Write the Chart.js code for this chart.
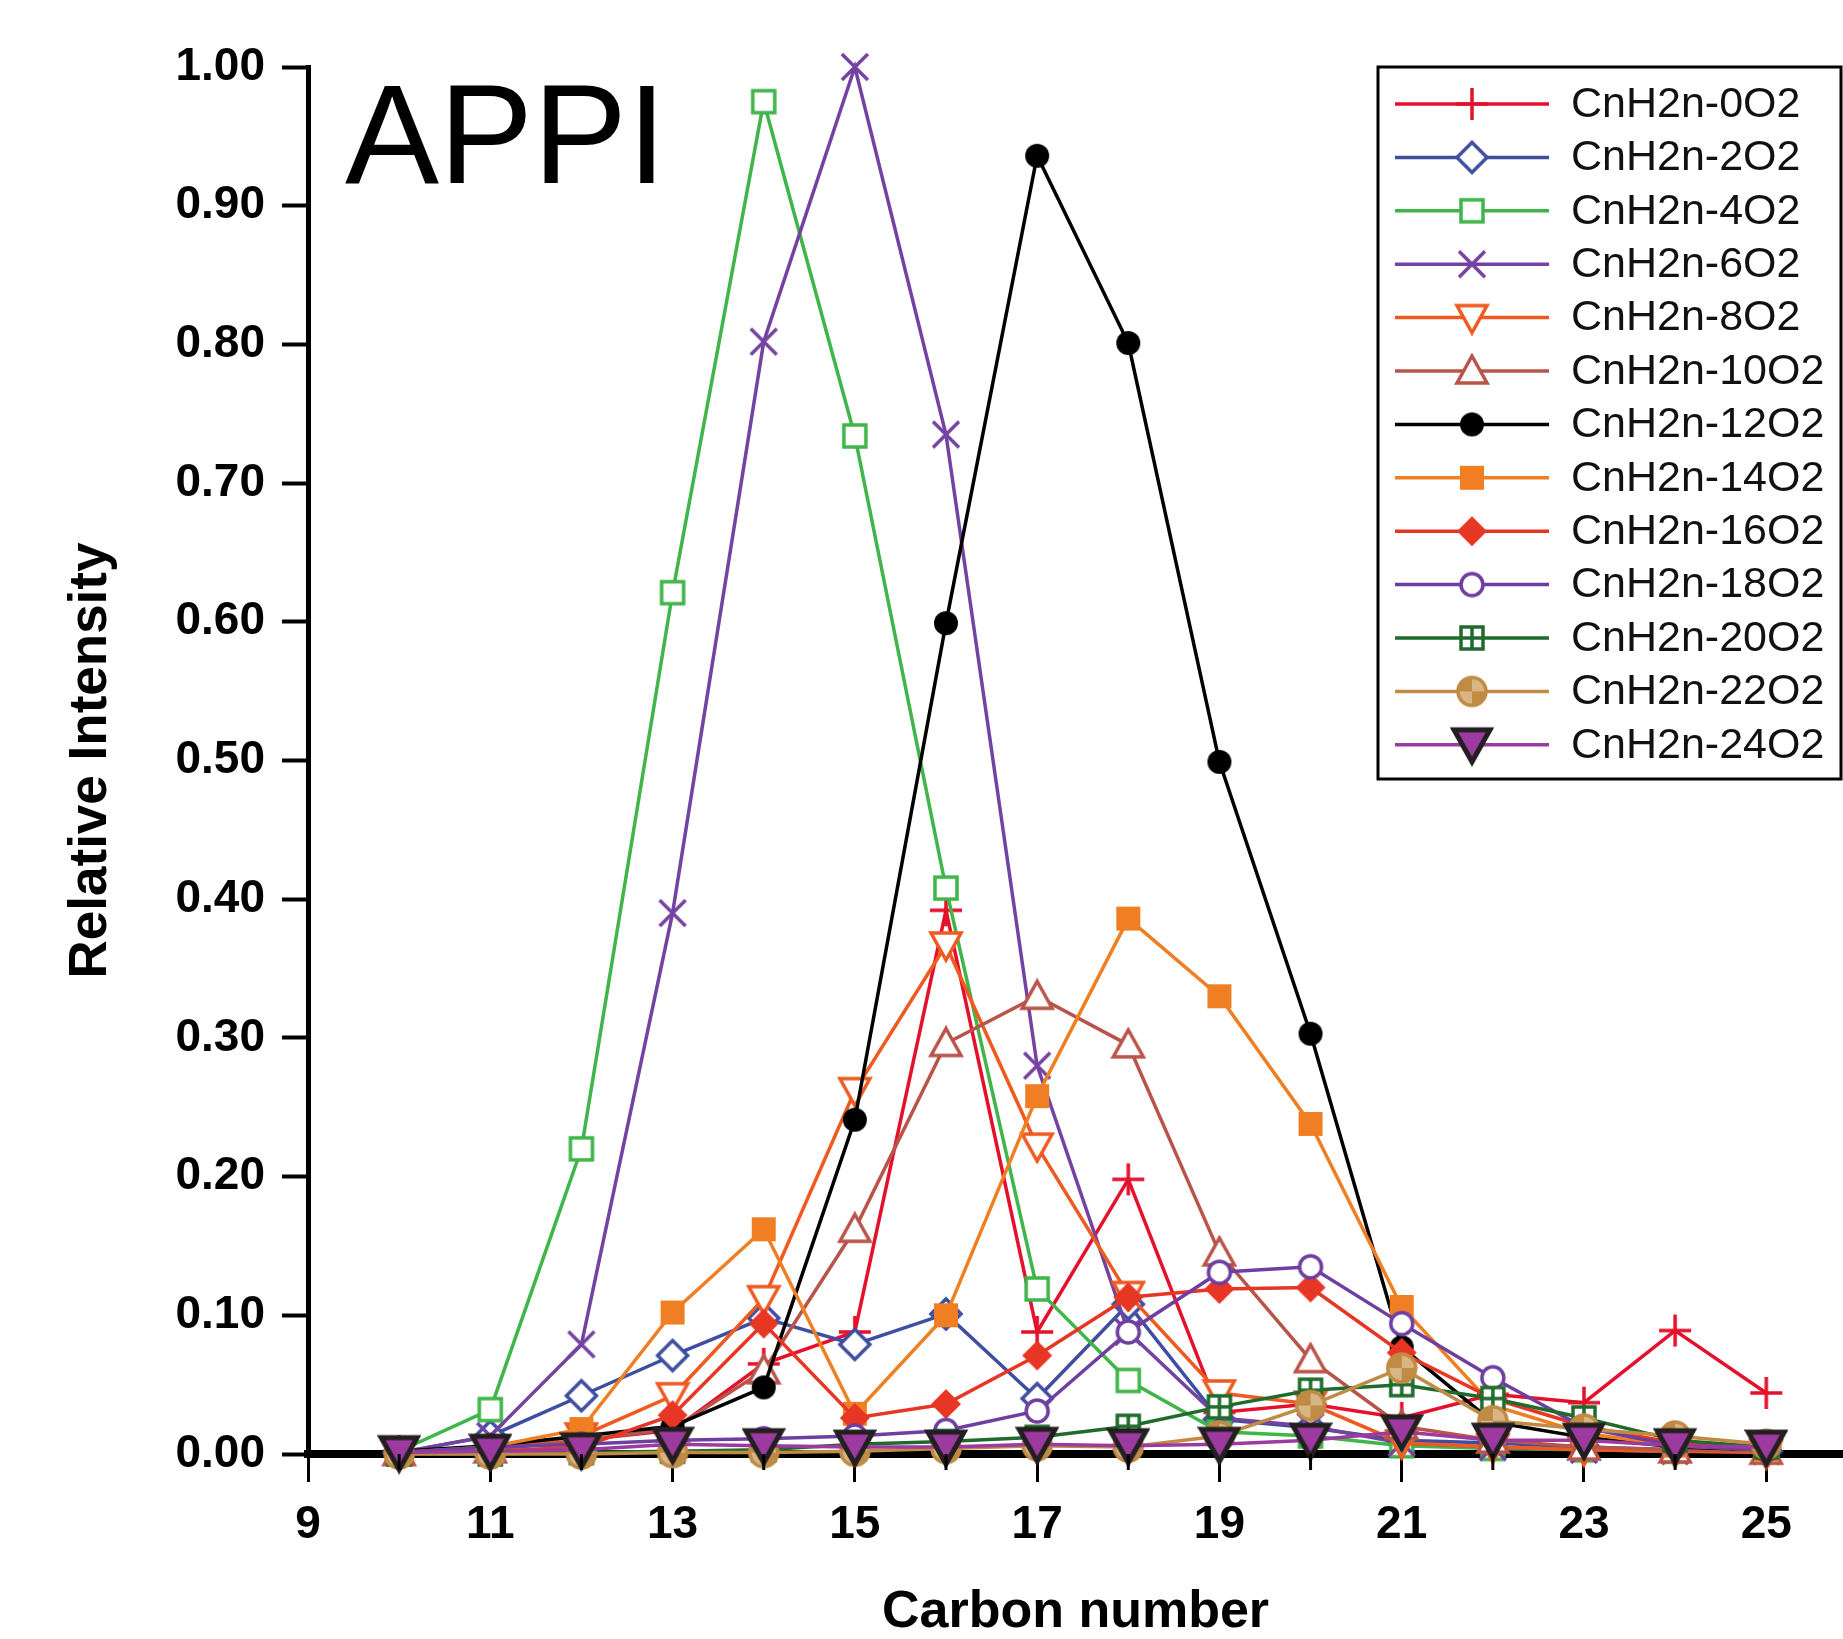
<!DOCTYPE html>
<html>
<head>
<meta charset="utf-8">
<script src="https://cdn.jsdelivr.net/npm/chart.js@4.4.1/dist/chart.umd.min.js"></script>
<style>
  html, body { margin: 0; padding: 0; background: #fff; }
  #wrap { width: 1843px; height: 1639px; }
</style>
</head>
<body>
<div id="wrap"><canvas id="canvas" width="1843" height="1639"></canvas></div>
<script>
// carbon numbers on the x axis
var carbon = [10, 11, 12, 13, 14, 15, 16, 17, 18, 19, 20, 21, 22, 23, 24, 25];

var seriesNames = [
    'CnH2n-0O2', 'CnH2n-2O2', 'CnH2n-4O2', 'CnH2n-6O2', 'CnH2n-8O2', 'CnH2n-10O2',
    'CnH2n-12O2', 'CnH2n-14O2', 'CnH2n-16O2', 'CnH2n-18O2', 'CnH2n-20O2', 'CnH2n-22O2', 'CnH2n-24O2'
];

var s0O2  = [0.002, 0.003, 0.010, 0.017, 0.065, 0.088, 0.392, 0.088, 0.198, 0.030, 0.036, 0.026, 0.043, 0.037, 0.089, 0.044];
var s2O2  = [0.001, 0.013, 0.042, 0.071, 0.098, 0.079, 0.101, 0.040, 0.108, 0.025, 0.019, 0.010, 0.008, 0.005, 0.003, 0.002];
var s4O2  = [0.002, 0.032, 0.220, 0.621, 0.975, 0.734, 0.408, 0.119, 0.053, 0.016, 0.013, 0.006, 0.004, 0.003, 0.002, 0.002];
var s6O2  = [0.001, 0.013, 0.079, 0.390, 0.802, 1.000, 0.735, 0.280, 0.088, 0.026, 0.020, 0.008, 0.005, 0.003, 0.002, 0.002];
var s8O2  = [0.001, 0.004, 0.013, 0.042, 0.112, 0.262, 0.367, 0.222, 0.115, 0.044, 0.036, 0.008, 0.005, 0.003, 0.002, 0.001];
var s10O2 = [0.001, 0.003, 0.010, 0.018, 0.060, 0.162, 0.296, 0.330, 0.295, 0.145, 0.068, 0.020, 0.010, 0.005, 0.003, 0.002];
var s12O2 = [0.002, 0.006, 0.013, 0.020, 0.048, 0.241, 0.599, 0.936, 0.801, 0.499, 0.303, 0.077, 0.023, 0.012, 0.005, 0.003];
var s14O2 = [0.001, 0.005, 0.018, 0.102, 0.162, 0.029, 0.100, 0.258, 0.386, 0.330, 0.238, 0.106, 0.035, 0.015, 0.006, 0.003];
var s16O2 = [0.001, 0.002, 0.005, 0.028, 0.094, 0.026, 0.036, 0.071, 0.113, 0.119, 0.120, 0.073, 0.040, 0.020, 0.008, 0.004];
var s18O2 = [0.001, 0.005, 0.007, 0.010, 0.011, 0.013, 0.017, 0.031, 0.088, 0.131, 0.135, 0.094, 0.055, 0.019, 0.006, 0.003];
var s20O2 = [0.000, 0.000, 0.001, 0.002, 0.003, 0.007, 0.009, 0.012, 0.020, 0.034, 0.046, 0.050, 0.040, 0.026, 0.010, 0.005];
var s22O2 = [0.000, 0.000, 0.000, 0.001, 0.001, 0.002, 0.004, 0.006, 0.005, 0.013, 0.035, 0.062, 0.024, 0.018, 0.013, 0.007];
var s24O2 = [0.001, 0.002, 0.003, 0.007, 0.006, 0.005, 0.005, 0.007, 0.006, 0.007, 0.010, 0.016, 0.010, 0.010, 0.006, 0.005];

var seriesValues = [s0O2, s2O2, s4O2, s6O2, s8O2, s10O2, s12O2, s14O2, s16O2, s18O2, s20O2, s22O2, s24O2];

var yTicks = [0, 0.1, 0.2, 0.3, 0.4, 0.5, 0.6, 0.7, 0.8, 0.9, 1.0];
var xLabelTicks = [9, 11, 13, 15, 17, 19, 21, 23, 25];
var xMinorTicks = [10, 12, 14, 16, 18, 20, 22, 24];

var colors = ['#e5112c', '#3f4ea0', '#3fb54a', '#7442a0', '#ee5a1f', '#b9544a', '#000000',
              '#f07f23', '#e73623', '#6e3fa0', '#1f6b2c', '#c08b44', '#9c3a9f'];
var markerKinds = ['plus', 'diamondOpen', 'squareOpen', 'x', 'triDownOpen', 'triUpOpen', 'dot',
                   'squareFill', 'diamondFill', 'circleOpen', 'squareGrid', 'circleQuarter', 'triDownBlack'];

var FONT = '"Liberation Sans", Arial, Helvetica, sans-serif';

function makeMarker(kind, color) {
    var c = document.createElement('canvas');
    var s = 36;
    if (kind === 'squareOpen' || kind === 'squareFill' || kind === 'squareGrid' || kind === 'dot' || kind === 'circleOpen') s = 30;
    if (kind === 'circleQuarter') s = 34;
    if (kind === 'triDownBlack') s = 44;
    c.width = s; c.height = s;
    var g = c.getContext('2d');
    var m = s / 2;
    g.lineWidth = 3.5;
    g.strokeStyle = color;
    g.fillStyle = color;
    g.lineJoin = 'miter';
    switch (kind) {
        case 'plus':
            g.beginPath();
            g.moveTo(m, 2); g.lineTo(m, s - 2);
            g.moveTo(2, m); g.lineTo(s - 2, m);
            g.stroke();
            break;
        case 'x':
            g.beginPath();
            g.moveTo(5, 5); g.lineTo(s - 5, s - 5);
            g.moveTo(s - 5, 5); g.lineTo(5, s - 5);
            g.stroke();
            break;
        case 'diamondOpen':
        case 'diamondFill':
            g.beginPath();
            g.moveTo(m, 3); g.lineTo(s - 3, m); g.lineTo(m, s - 3); g.lineTo(3, m); g.closePath();
            if (kind === 'diamondFill') g.fill(); else { g.fillStyle = '#fff'; g.fill(); g.stroke(); }
            break;
        case 'squareOpen':
            g.fillStyle = '#fff';
            g.fillRect(4, 4, s - 8, s - 8);
            g.strokeRect(4, 4, s - 8, s - 8);
            break;
        case 'squareFill':
            g.fillRect(3, 3, s - 6, s - 6);
            break;
        case 'squareGrid':
            g.fillStyle = '#fff';
            g.fillRect(4, 4, s - 8, s - 8);
            g.strokeRect(4, 4, s - 8, s - 8);
            g.beginPath();
            g.moveTo(m, 4); g.lineTo(m, s - 4);
            g.moveTo(4, m); g.lineTo(s - 4, m);
            g.stroke();
            break;
        case 'triDownOpen':
            g.beginPath();
            g.moveTo(3, 6); g.lineTo(s - 3, 6); g.lineTo(m, s - 3); g.closePath();
            g.fillStyle = '#fff'; g.fill(); g.stroke();
            break;
        case 'triUpOpen':
            g.beginPath();
            g.moveTo(m, 3); g.lineTo(s - 3, s - 6); g.lineTo(3, s - 6); g.closePath();
            g.fillStyle = '#fff'; g.fill(); g.stroke();
            break;
        case 'dot':
            g.beginPath();
            g.arc(m, m, 12, 0, Math.PI * 2);
            g.fill();
            break;
        case 'circleOpen':
            g.beginPath();
            g.arc(m, m, 11, 0, Math.PI * 2);
            g.fillStyle = '#fff'; g.fill(); g.stroke();
            break;
        case 'circleQuarter':
            g.beginPath();
            g.arc(m, m, 15, 0, Math.PI * 2);
            g.fillStyle = '#d9b583'; g.fill();
            g.fillStyle = color;
            g.beginPath(); g.moveTo(m, m); g.arc(m, m, 15, Math.PI, Math.PI * 1.5); g.closePath(); g.fill();
            g.beginPath(); g.moveTo(m, m); g.arc(m, m, 15, 0, Math.PI * 0.5); g.closePath(); g.fill();
            g.beginPath(); g.arc(m, m, 14, 0, Math.PI * 2); g.stroke();
            break;
        case 'triDownBlack':
            g.beginPath();
            g.moveTo(4, 7); g.lineTo(s - 4, 7); g.lineTo(m, s - 5); g.closePath();
            g.fillStyle = color; g.fill();
            g.lineWidth = 5; g.strokeStyle = '#231f20'; g.stroke();
            break;
    }
    return c;
}

var markers = markerKinds.map(function(k, i) { return makeMarker(k, colors[i]); });

var datasets = seriesNames.map(function(name, i) {
    return {
        label: name,
        data: carbon.map(function(c, j) { return {x: c, y: seriesValues[i][j]}; }),
        borderColor: colors[i],
        backgroundColor: colors[i],
        borderWidth: 3.5,
        pointStyle: markers[i],
        pointRadius: 14,
        tension: 0,
        clip: false,
        order: seriesNames.length - i
    };
});

var decorPlugin = {
    id: 'decor',
    afterDraw: function(chart) {
        var ctx = chart.ctx;
        var xs = chart.scales.x;
        var area = chart.chartArea;
        ctx.save();
        // carry the x axis line on to the right edge
        ctx.fillStyle = '#000';
        ctx.fillRect(area.right - 2, area.bottom - 4, chart.width - area.right + 2, 8);
        // minor ticks at even carbon numbers
        ctx.strokeStyle = '#000';
        ctx.lineWidth = 3;
        xMinorTicks.forEach(function(v) {
            var px = xs.getPixelForValue(v);
            ctx.beginPath();
            ctx.moveTo(px, area.bottom);
            ctx.lineTo(px, area.bottom + 16);
            ctx.stroke();
        });
        // x axis title, centred on the full axis line
        ctx.fillStyle = '#000';
        ctx.font = 'bold 52px ' + FONT;
        ctx.textAlign = 'center';
        ctx.textBaseline = 'middle';
        ctx.fillText('Carbon number', (area.left + chart.width) / 2, 1613);

        // APPI label
        ctx.font = '141px ' + FONT;
        ctx.textBaseline = 'alphabetic';
        ctx.textAlign = 'left';
        ctx.fillText('APPI', 345, 183);

        // legend box
        var bx = 1378, by = 67, bw = 463, bh = 712;
        ctx.fillStyle = '#fff';
        ctx.fillRect(bx, by, bw, bh);
        ctx.lineWidth = 3;
        ctx.strokeStyle = '#000';
        ctx.strokeRect(bx, by, bw, bh);
        ctx.font = '43px ' + FONT;
        ctx.textBaseline = 'middle';
        seriesNames.forEach(function(name, i) {
            var y = 104 + i * 53.4;
            ctx.strokeStyle = colors[i];
            ctx.lineWidth = 3.5;
            ctx.beginPath();
            ctx.moveTo(1395, y);
            ctx.lineTo(1549, y);
            ctx.stroke();
            var mk = markers[i];
            ctx.drawImage(mk, 1472 - mk.width / 2, y - mk.height / 2);
            ctx.fillStyle = '#111';
            ctx.fillText(name, 1571, y + 1);
        });
        ctx.restore();
    }
};

function loadChart() {
    var ctx = document.getElementById('canvas').getContext('2d');
    window.myChart = new Chart(ctx, {
        type: 'line',
        data: { datasets: datasets },
        options: {
            responsive: false,
            animation: false,
            devicePixelRatio: 1,
            layout: { padding: { top: 67, left: 0, right: 0, bottom: 0 } },
            plugins: {
                legend: { display: false },
                tooltip: { enabled: false }
            },
            scales: {
                x: {
                    type: 'linear',
                    min: 9,
                    max: 25.65,
                    afterFit: function(scale) { scale.height = 185; },
                    afterBuildTicks: function(scale) {
                        scale.ticks = xLabelTicks.map(function(v) { return {value: v}; });
                    },
                    border: { display: true, color: '#000', width: 8 },
                    grid: {
                        drawOnChartArea: false,
                        drawTicks: true,
                        tickLength: 28,
                        tickWidth: 3,
                        tickColor: '#000'
                    },
                    ticks: {
                        color: '#000',
                        padding: 16,
                        maxRotation: 0,
                        autoSkip: false,
                        font: { family: FONT, size: 46, weight: 'bold' },
                        callback: function(v) { return String(v); }
                    },
                    title: { display: false }
                },
                y: {
                    type: 'linear',
                    min: 0,
                    max: 1.0,
                    afterFit: function(scale) { scale.width = 308; },
                    afterBuildTicks: function(scale) {
                        scale.ticks = yTicks.map(function(v) { return {value: v}; });
                    },
                    border: { display: true, color: '#000', width: 5 },
                    grid: {
                        drawOnChartArea: false,
                        drawTicks: true,
                        tickLength: 26,
                        tickWidth: 4,
                        tickColor: '#000'
                    },
                    ticks: {
                        color: '#000',
                        padding: 17,
                        font: { family: FONT, size: 46, weight: 'bold' },
                        callback: function(v) { return Number(v).toFixed(2); }
                    },
                    title: {
                        display: true,
                        text: 'Relative Intensity',
                        color: '#000',
                        padding: { top: 60, bottom: 0 },
                        font: { family: FONT, size: 53, weight: 'bold' }
                    }
                }
            }
        },
        plugins: [decorPlugin]
    });
}

loadChart();
</script>
</body>
</html>
